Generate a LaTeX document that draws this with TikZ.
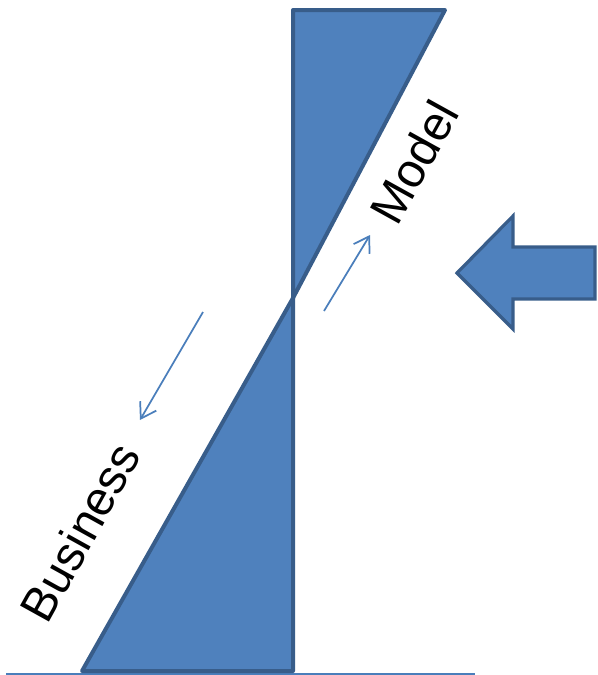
\documentclass[tikz,border=0pt]{standalone}
\usepackage{fontspec}
\setmainfont{Liberation Sans}
\usetikzlibrary{arrows.meta}
\definecolor{fillblue}{HTML}{4F81BD}
\definecolor{edgeblue}{HTML}{385D8A}
\definecolor{lineblue}{HTML}{4A7EBB}
\begin{document}
\begin{tikzpicture}[x=0.75pt,y=-0.75pt,
  tri/.style={fill=fillblue,draw=edgeblue,line width=3pt,line join=round},
  bigarrow/.style={fill=fillblue,draw=edgeblue,line width=2.4pt,line join=miter},
  thinarrow/.style={draw=lineblue,line width=1.3pt,-{Straight Barb[length=11pt,width=14pt,line width=1.3pt]}},
  label/.style={font=\fontsize{36}{36}\selectfont,inner sep=0pt,rotate=61}]
\useasboundingbox (0,0) rectangle (597,675);
% baseline
\draw[lineblue,line width=1.2pt] (6,674) -- (475,674);
% triangles
\draw[tri] (293,10) -- (445,10) -- (293,298) -- cycle;
\draw[tri] (293,298) -- (293,671) -- (82,671) -- cycle;
% big arrow
\draw[bigarrow] (595,247) -- (513,247) -- (513,216) -- (457,273) -- (513,329) -- (513,299) -- (595,299) -- cycle;
% thin arrows
\coordinate (a1) at (203,312);
\coordinate (b1) at (140,420);
\coordinate (a2) at (324,311);
\coordinate (b2) at (370,235);
\draw[thinarrow] (a1) -- (b1);
\draw[thinarrow] (a2) -- (b2);
% labels
\node[label] (model) at (414,162) {Model};
\node[label] (business) at (80,532) {Business};
\end{tikzpicture}
\end{document}
